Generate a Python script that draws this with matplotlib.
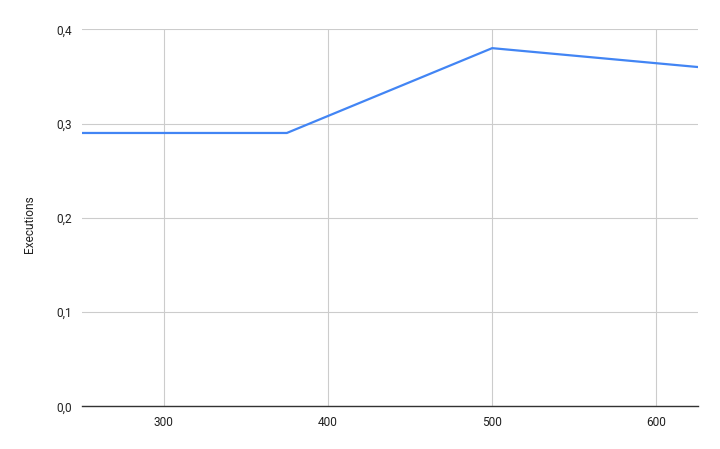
import matplotlib
matplotlib.use("Agg")
import matplotlib.pyplot as plt
from matplotlib.ticker import FuncFormatter

x_vals = [250, 375, 500, 625]
executions = [0.29, 0.29, 0.38, 0.36]
x_ticks = [300, 400, 500, 600]
y_ticks = [0.0, 0.1, 0.2, 0.3, 0.4]

plt.rcParams['font.family'] = ['Roboto', 'DejaVu Sans']

fig = plt.figure(figsize=(7.2, 4.49), dpi=100)
W, H = 720, 449
left, right, top, bottom = 81.5, 697.5, 29.3, 406.3
ax = fig.add_axes([left / W, 1 - bottom / H, (right - left) / W, (bottom - top) / H])

ax.plot(x_vals, executions, color='#4285F4', linewidth=1.6, solid_joinstyle='miter', zorder=3)
ax.set_xlim(250, 625)
ax.set_ylim(0, 0.4)
ax.set_xticks(x_ticks)
ax.set_yticks(y_ticks)
ax.yaxis.set_major_formatter(FuncFormatter(lambda v, p: f"{v:.1f}".replace('.', ',')))
ax.grid(True, color='#cccccc', linewidth=0.8)
ax.set_axisbelow(True)
for s in ['top', 'right', 'left']:
    ax.spines[s].set_visible(False)
ax.spines['bottom'].set_color('#333333')
ax.spines['bottom'].set_linewidth(1.0)
ax.spines['bottom'].set_zorder(4)
ax.tick_params(axis='both', length=0, labelsize=8.6, labelcolor='#222222')
ax.tick_params(axis='x', pad=7)
ax.tick_params(axis='y', pad=7)
ax.set_ylabel('Executions', fontsize=8.6, color='#222222', labelpad=13)
ax.yaxis.set_label_coords(-0.074, 0.483)

fig.savefig('out.png', dpi=100, facecolor='white')
